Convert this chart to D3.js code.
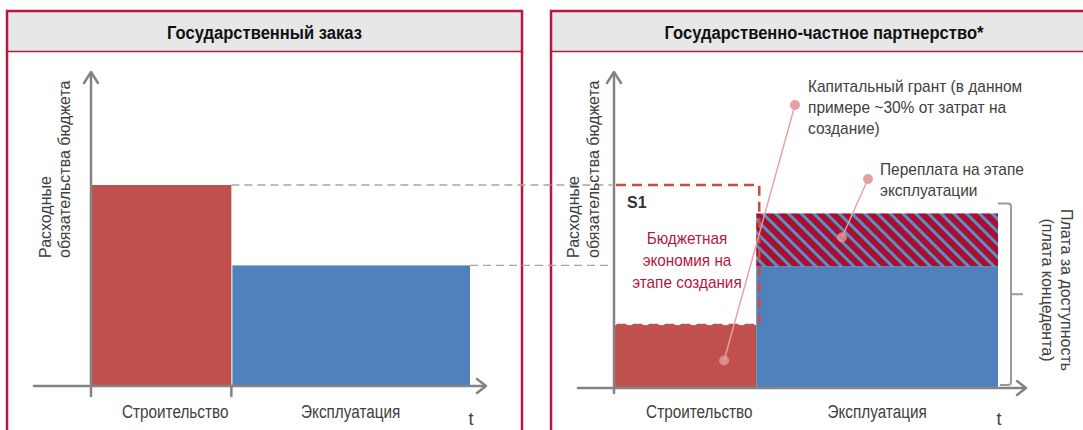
<!DOCTYPE html>
<html>
<head>
<meta charset="utf-8">
<script src="https://cdn.jsdelivr.net/npm/d3@7"></script>
<style>
  body { margin: 0; background: #fff; }
  svg text { font-family: "Liberation Sans", Arial, sans-serif; }
</style>
</head>
<body>
<div id="chart"></div>
<script>
// data
const panelTitles = ["Государственный заказ", "Государственно-частное партнерство*"];
const phases = ["Строительство", "Эксплуатация"];
const phaseBounds = [0, 1, 2.7];          // start / end of each phase (time units)
const stateCost = [100, 60];              // state order: budget spend per phase
const pppCost = [31, 60];                 // PPP: capital grant, availability payment
const pppOverpay = [0, 26];               // PPP: overpayment on top of operation
const yLabel = ["Расходные", "обязательства бюджета"];
const grantNote = ["Капитальный грант (в данном", "примере ~30% от затрат на", "создание)"];
const overpayNote = ["Переплата на этапе", "эксплуатации"];
const savingsNote = ["Бюджетная", "экономия на", "этапе создания"];
const payNote = ["Плата за доступность", "(плата концедента)"];

const W = 1083, H = 430;
const red = "#c0504d", blue = "#4f81bd", crimson = "#b5173d", axisCol = "#838383";
const txt = "#404040", pink = "#e6a0a0";

const svg = d3.select("#chart").append("svg")
    .attr("width", W).attr("height", H)
    .attr("viewBox", [0, 0, W, H]);

// hatch for overpayment
svg.append("defs").append("pattern")
    .attr("id", "hatch")
    .attr("patternUnits", "userSpaceOnUse")
    .attr("width", 9).attr("height", 9)
    .attr("patternTransform", "rotate(-45)")
    .call(p => {
        p.append("rect").attr("width", 9).attr("height", 9).attr("fill", "#a8102f");
        p.append("rect").attr("width", 3).attr("height", 9).attr("fill", "#5a8fc9");
    });

function squeeze(sel, k) {
    sel.each(function () {
        const w = this.getComputedTextLength();
        d3.select(this).attr("textLength", w * k).attr("lengthAdjust", "spacingAndGlyphs");
    });
}

// panels
const panels = [{x0: 7, x1: 522}, {x0: 551, x1: 1095}];
panels.forEach((p, i) => {
    svg.append("rect")
        .attr("x", p.x0).attr("y", 11)
        .attr("width", p.x1 - p.x0).attr("height", 40)
        .attr("fill", "#e7e7e7");
    svg.append("rect")
        .attr("x", p.x0).attr("y", 11)
        .attr("width", p.x1 - p.x0).attr("height", H + 20)
        .attr("fill", "none").attr("stroke", crimson).attr("stroke-width", 2.5);
    svg.append("line")
        .attr("x1", p.x0).attr("x2", p.x1).attr("y1", 51.5).attr("y2", 51.5)
        .attr("stroke", crimson).attr("stroke-width", 1.5);
    svg.append("text")
        .attr("x", i === 0 ? (p.x0 + p.x1) / 2 : 824).attr("y", 39)
        .attr("text-anchor", "middle")
        .attr("font-size", 18).attr("font-weight", "bold").attr("fill", "#111")
        .text(panelTitles[i])
        .call(squeeze, 0.92);
});

// scales
const xL = d3.scaleLinear().domain([0, 2.7]).range([91, 470]);
const yL = d3.scaleLinear().domain([0, 100]).range([386, 185]);
const xR = d3.scaleLinear().domain([0, 2.7]).range([614, 998]);
const yR = d3.scaleLinear().domain([0, 100]).range([388, 185]);

function axes(g, x, y, leftExt, rightExt, ticks) {
    const a = g.append("g").attr("stroke", axisCol).attr("fill", "none")
        .attr("stroke-width", 2.5).attr("stroke-linecap", "round");
    const y0 = y(0), x0 = x(0), top = 72;
    a.append("line").attr("x1", x0).attr("x2", x0).attr("y1", top + 1).attr("y2", y0 + (ticks ? 10 : 5));
    a.append("path").attr("d", `M${x0 - 7},${top + 11}L${x0},${top}L${x0 + 7},${top + 11}`)
        .attr("stroke-linejoin", "round");
    a.append("line").attr("x1", leftExt).attr("x2", rightExt - 1).attr("y1", y0).attr("y2", y0);
    a.append("path").attr("d", `M${rightExt - 9},${y0 - 7}L${rightExt},${y0}L${rightExt - 9},${y0 + 7}`)
        .attr("stroke-linejoin", "round");
    if (ticks) {
        a.append("line").attr("x1", x(phaseBounds[1])).attr("x2", x(phaseBounds[1]))
            .attr("y1", y0).attr("y2", y0 + 10);
    }
}

function phaseLabels(g, x, y) {
    g.selectAll(null).data(phases).join("text")
        .attr("x", (d, i) => i === 0 ? x(0.6) : x((phaseBounds[1] + phaseBounds[2]) / 2))
        .attr("y", 418)
        .attr("text-anchor", "middle")
        .attr("font-size", 18).attr("fill", txt)
        .text(d => d)
        .call(squeeze, 0.85);
    g.append("text").attr("x", x(phaseBounds[2]) + 1).attr("y", 425)
        .attr("text-anchor", "middle").attr("font-size", 18).attr("fill", txt).text("t");
}

function yTitle(g, xs) {
    g.selectAll(null).data(yLabel).join("text")
        .attr("transform", (d, i) => `translate(${xs[i]},258) rotate(-90)`)
        .attr("font-size", 17).attr("fill", txt)
        .text(d => d)
        .call(squeeze, 0.94);
}

// ---- left: state order ----
const gL = svg.append("g");
gL.selectAll("rect.bar").data(stateCost).join("rect")
    .attr("class", "bar")
    .attr("x", (d, i) => xL(phaseBounds[i]) + (i ? 1 : 0))
    .attr("width", (d, i) => xL(phaseBounds[i + 1]) - xL(phaseBounds[i]) - (i ? 1 : 0))
    .attr("y", d => yL(d))
    .attr("height", d => yL(0) - yL(d))
    .attr("fill", (d, i) => i ? blue : red);

// reference dashed lines carried into the right panel
gL.selectAll("line.ref").data(stateCost).join("line")
    .attr("class", "ref")
    .attr("x1", (d, i) => xL(phaseBounds[i + 1]))
    .attr("x2", xR(0) - 2)
    .attr("y1", d => yL(d)).attr("y2", d => yL(d))
    .attr("stroke", "#a6a6a6").attr("stroke-width", 1.3).attr("stroke-dasharray", "8,5");

axes(gL, xL, yL, 34, 486, true);
phaseLabels(gL, xL, yL);
yTitle(gL, [51, 70]);

// ---- right: PPP ----
const gR = svg.append("g");
gR.selectAll("rect.bar").data(pppCost).join("rect")
    .attr("class", "bar")
    .attr("x", (d, i) => xR(phaseBounds[i]))
    .attr("width", (d, i) => xR(phaseBounds[i + 1]) - xR(phaseBounds[i]))
    .attr("y", d => yR(d))
    .attr("height", d => yR(0) - yR(d))
    .attr("fill", (d, i) => i ? blue : red);

gR.selectAll("rect.over").data(pppOverpay.map((v, i) => ({v, base: pppCost[i], i})).filter(d => d.v > 0))
    .join("rect")
    .attr("class", "over")
    .attr("x", d => xR(phaseBounds[d.i]))
    .attr("width", d => xR(phaseBounds[d.i + 1]) - xR(phaseBounds[d.i]))
    .attr("y", d => yR(d.base + d.v))
    .attr("height", d => yR(d.base) - yR(d.base + d.v))
    .attr("fill", "url(#hatch)");

// budget saving outline (state cost of construction)
const sx0 = xR(phaseBounds[0]) + 2, sx1 = xR(phaseBounds[1]) + 3;
const sy0 = yR(stateCost[0]), sy1 = yR(pppCost[0]);
gR.append("path")
    .attr("d", `M${sx0},${sy0}H${sx1}V${sy1}H${sx0}`)
    .attr("fill", "none").attr("stroke", red).attr("stroke-width", 2.6)
    .attr("stroke-dasharray", "10,6");

axes(gR, xR, yR, 578, 1026, false);
phaseLabels(gR, xR, yR);
yTitle(gR, [579, 599]);

gR.append("text").attr("x", 627).attr("y", 208)
    .attr("font-size", 16).attr("font-weight", "bold").attr("fill", "#333").text("S1");

gR.selectAll("text.save").data(savingsNote).join("text")
    .attr("class", "save")
    .attr("x", 687).attr("y", (d, i) => 244 + i * 22)
    .attr("text-anchor", "middle")
    .attr("font-size", 17).attr("fill", crimson)
    .text(d => d)
    .call(squeeze, 0.9);

// bracket for availability payment
const bTop = yR(pppCost[1] + pppOverpay[1]) - 10, bBot = yR(0) - 3, bx = 1011;
gR.append("path")
    .attr("d", `M${xR(phaseBounds[2])},${bTop}H${bx - 3}Q${bx},${bTop} ${bx},${bTop + 3}V${bBot - 3}Q${bx},${bBot} ${bx - 3},${bBot}H${xR(phaseBounds[2]) + 2}M${bx},${(bTop + bBot) / 2}H${bx + 12}`)
    .attr("fill", "none").attr("stroke", "#9a9a9a").attr("stroke-width", 2);

gR.selectAll("text.pay").data(payNote).join("text")
    .attr("class", "pay")
    .attr("transform", (d, i) => `translate(${1061 - i * 19},290) rotate(90)`)
    .attr("text-anchor", "middle")
    .attr("font-size", 17).attr("fill", txt)
    .text(d => d)
    .call(squeeze, 0.94);

// callouts
function callout(lines, tx, ty, dot, target) {
    gR.append("line")
        .attr("x1", dot[0]).attr("y1", dot[1]).attr("x2", target[0]).attr("y2", target[1])
        .attr("stroke", pink).attr("stroke-width", 1.4);
    gR.append("circle").attr("cx", dot[0]).attr("cy", dot[1]).attr("r", 5).attr("fill", pink);
    gR.append("circle").attr("cx", target[0]).attr("cy", target[1]).attr("r", 5)
        .attr("fill", pink).attr("opacity", 0.75);
    gR.selectAll(null).data(lines).join("text")
        .attr("x", tx).attr("y", (d, i) => ty + i * 21)
        .attr("font-size", 17).attr("fill", txt)
        .text(d => d)
        .call(squeeze, 0.91);
}
callout(grantNote, 808, 92, [795, 105], [(xR(0) + xR(1)) / 2 + 39, yR(pppCost[0] / 2) + 4]);
callout(overpayNote, 880, 175, [868, 179], [842, yR(pppCost[1] + pppOverpay[1] * 0.55)]);
</script>
</body>
</html>
